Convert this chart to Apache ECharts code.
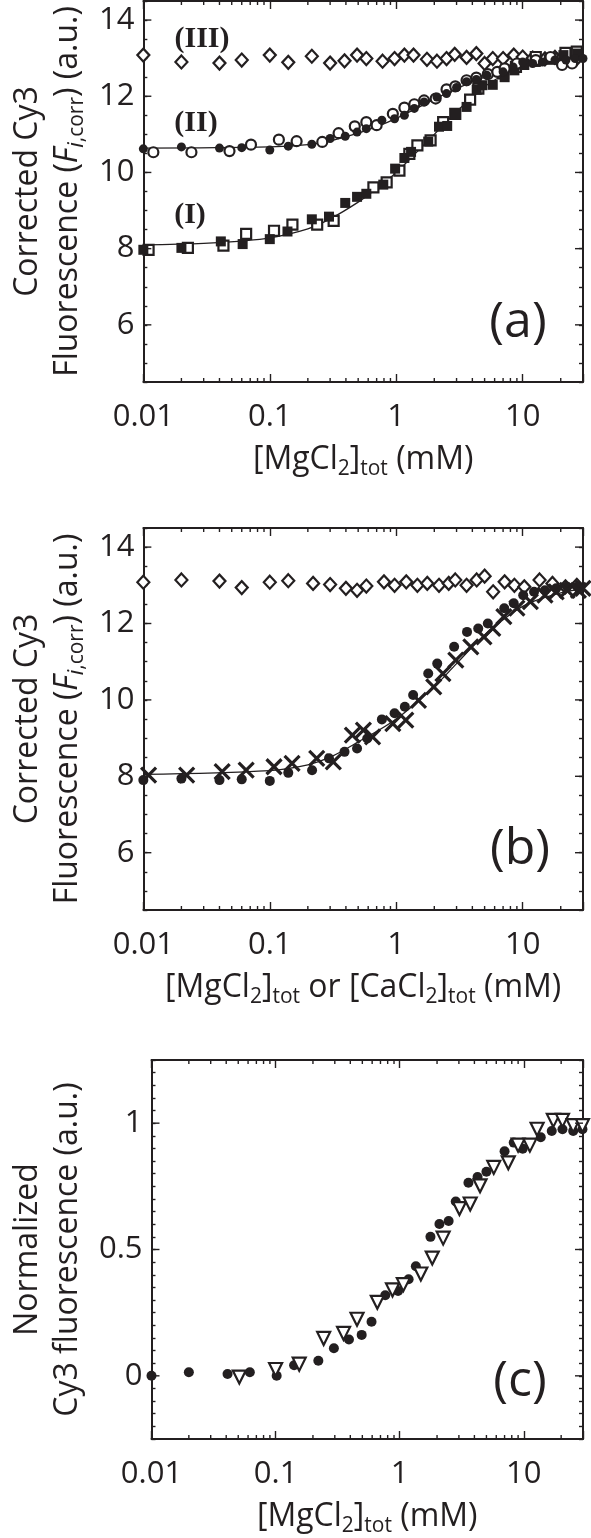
<!DOCTYPE html>
<html><head><meta charset="utf-8">
<script src="https://cdn.jsdelivr.net/npm/echarts@6/dist/echarts.min.js"></script>
<style>html,body{margin:0;padding:0;background:#fff}#c{width:591px;height:1538px}</style>
</head><body><div id="c"></div>
<script>
// ---------- Panel (a) ----------
const a3X = [0.01,0.02,0.04,0.06,0.1,0.14,0.215,0.3,0.39,0.49,0.58,0.78,0.97,1.16,1.37,1.75,2.1,2.5,2.9,3.6,4.3,5.0,5.8,7.0,8.5,10,12,15,18,22,27];
const a3Y = [13.08,12.90,12.87,12.95,13.08,12.89,13.05,12.87,12.93,13.08,12.99,12.92,12.99,13.08,13.08,12.97,12.92,12.99,13.10,13.02,13.12,12.86,12.99,12.99,13.08,13.03,13.00,12.98,13.02,12.97,13.00];
const a2FilledX = [0.01,0.02,0.04,0.06,0.1,0.14,0.215,0.3,0.395,0.49,0.58,0.77,0.97,1.16,1.39,1.66,2.1,2.5,3.0,3.6,4.3,5.2,7.0,8.4,10,12,14.3,18,22,26,30];
const a2FilledY = [10.62,10.67,10.64,10.65,10.59,10.69,10.74,10.89,10.95,11.06,11.15,11.37,11.41,11.50,11.68,11.85,11.98,12.07,12.23,12.38,12.44,12.55,12.64,12.77,12.90,12.86,12.90,12.95,12.95,12.99,12.99];
const a2OpenX = [0.012,0.024,0.048,0.071,0.118,0.163,0.26,0.35,0.47,0.58,0.70,0.94,1.16,1.39,1.66,2.05,2.5,2.93,3.6,4.3,5.3,6.3,7.2,9.0,12.7,16.6,20.5,24.6];
const a2OpenY = [10.53,10.53,10.56,10.73,10.86,10.82,10.80,11.03,11.21,11.32,11.24,11.54,11.70,11.79,11.89,11.94,12.18,12.26,12.42,12.49,12.58,12.64,12.73,12.86,12.95,13.03,12.82,12.86];
const a1FilledX = [0.01,0.02,0.041,0.061,0.10,0.138,0.215,0.294,0.395,0.49,0.58,0.79,0.98,1.16,1.31,1.79,2.18,2.53,2.93,3.6,4.33,4.8,5.8,7.2,8.6,10.3,12.7,16.1,21,27];
const a1FilledY = [7.97,8.02,8.19,8.12,8.25,8.45,8.77,8.84,9.20,9.36,9.44,9.68,10.10,10.38,10.54,10.81,11.20,11.22,11.52,11.72,12.17,12.29,12.30,12.50,12.68,12.82,12.90,12.97,13.08,13.12];
const a1OpenX = [0.011,0.0225,0.043,0.065,0.108,0.151,0.237,0.32,0.66,0.84,1.06,1.27,1.47,1.87,2.35,2.93,3.84,4.46,7.0,8.85,12.7,17.2,21.8,26.8];
const a1OpenY = [7.97,8.02,8.08,8.39,8.47,8.63,8.63,8.73,9.61,9.74,10.05,10.49,10.71,10.84,11.32,11.54,11.91,12.20,12.60,12.77,13.03,12.99,13.14,13.17];
const a1FitX = [0.01,0.03,0.06,0.1,0.2,0.3,0.5,0.7,1,1.5,2,3,5,7,10,20,30];
const a1FitY = [8.10,8.14,8.20,8.28,8.52,8.78,9.22,9.58,10.0,10.58,11.0,11.6,12.25,12.55,12.80,13.02,13.08];
const a2FitX = [0.01,0.1,0.2,0.3,0.5,0.7,1,2,3,5,10,20,30];
const a2FitY = [10.64,10.67,10.73,10.83,11.03,11.20,11.42,11.92,12.20,12.50,12.80,12.95,12.98];

// ---------- Panel (b) ----------
const bDiamondX = [0.01,0.02,0.04,0.06,0.1,0.14,0.22,0.30,0.40,0.49,0.58,0.80,0.97,1.2,1.47,1.76,2.18,2.6,2.93,3.6,4.33,5.0,5.84,7.2,8.6,10.3,13.6,17.2,21.8,26.8];
const bDiamondY = [13.08,13.14,13.11,12.94,13.08,13.12,13.05,13.02,12.92,12.87,12.98,13.09,13.00,13.09,13.00,13.05,13.00,13.05,13.14,13.00,13.14,13.24,12.83,13.09,13.00,12.96,13.14,13.05,12.96,13.00];
const bDotX = [0.01,0.02,0.04,0.06,0.1,0.14,0.216,0.294,0.39,0.49,0.59,0.77,0.97,1.17,1.36,1.79,2.11,2.87,3.63,4.45,5.3,7.15,8.5,10.1,12.3,15,18.4,22.5,27.6];
const bDotY = [7.90,7.94,7.90,7.92,7.88,8.09,8.16,8.47,8.64,8.73,8.99,9.49,9.65,9.82,10.13,10.69,10.95,11.39,11.78,11.87,12.00,12.40,12.53,12.74,12.83,12.87,12.92,12.96,12.96];
const bCrossX = [0.011,0.022,0.042,0.065,0.108,0.15,0.235,0.318,0.45,0.55,0.65,0.94,1.19,1.5,1.98,2.34,2.96,3.89,4.94,5.8,7.1,9.0,11.5,15,18.4,22.5,27.6,30];
const bCrossY = [8.03,8.03,8.12,8.16,8.25,8.34,8.47,8.38,9.08,9.21,9.03,9.38,9.47,9.99,10.34,10.69,11.04,11.39,11.65,11.87,12.18,12.40,12.57,12.74,12.83,12.87,12.87,12.92];
const bFitX = [0.01,0.1,0.2,0.3,0.5,1,2,3,5,10,20,30];
const bFitY = [8.05,8.15,8.30,8.50,8.90,9.50,10.35,10.95,11.70,12.45,12.80,12.90];

// ---------- Panel (c) ----------
const cDotX = [0.01,0.02,0.041,0.062,0.102,0.141,0.221,0.295,0.39,0.494,0.593,0.765,0.97,1.18,1.35,1.77,2.09,2.48,2.83,3.58,4.24,5.0,7.0,8.3,9.8,13.7,16.8,20.5,25,29.7];
const cDotY = [0.0,0.014,0.007,0.014,0.0,0.042,0.060,0.109,0.144,0.162,0.214,0.319,0.336,0.382,0.434,0.55,0.601,0.613,0.69,0.764,0.787,0.808,0.889,0.923,0.899,0.944,0.969,0.976,0.969,0.976];
const cTriX = [0.051,0.10,0.155,0.244,0.353,0.453,0.66,0.875,1.07,1.48,1.83,2.24,3.03,3.7,4.44,5.73,7.5,9.0,11.2,12.8,17.3,20.5,25,29.7];
const cTriY = [-0.005,0.025,0.046,0.148,0.168,0.224,0.291,0.34,0.361,0.403,0.466,0.545,0.662,0.68,0.752,0.825,0.843,0.913,0.913,0.976,1.011,1.011,0.99,0.99];

// ---------- Axis ticks ----------
const xDecadeLabels = [0.01, 0.1, 1, 10];
const xMinorTicks = [0.02,0.03,0.04,0.05,0.06,0.07,0.08,0.09,0.2,0.3,0.4,0.5,0.6,0.7,0.8,0.9,2,3,4,5,6,7,8,9,20];
const yMajorAB = [6, 8, 10, 12, 14];
const yMajorC = [0, 0.5, 1];

const INK = '#231f20';
const FONT = 'Open Sans';
const XMIN = 0.01, XMAX = 30;

const pair = (xs, ys) => xs.map((x, i) => [x, ys[i]]);

const grids = [
  {left: 133, top: 1, width: 450, height: 381, yMin: 4.5, yMax: 14.5, yStep: 0.5, majors: yMajorAB},
  {left: 133, top: 528, width: 450, height: 382, yMin: 4.5, yMax: 14.5, yStep: 0.5, majors: yMajorAB},
  {left: 133, top: 1060, width: 450, height: 381, yMin: -0.25, yMax: 1.25, yStep: 0.05, majors: yMajorC}
];

const subRich = {
  s: {fontSize: 21, lineHeight: 20, verticalAlign: 'bottom', fontFamily: FONT, color: INK},
  m: {fontSize: 32, lineHeight: 40, fontFamily: FONT, color: INK},
  it: {fontSize: 32, lineHeight: 40, fontFamily: FONT, fontStyle: 'italic', color: INK},
  si: {fontSize: 22, lineHeight: 20, verticalAlign: 'bottom', fontFamily: FONT, fontStyle: 'italic', color: INK}
};

const xNames = [
  '{m|[MgCl}{s|2}{m|]}{s|tot}{m| (mM)}',
  '{m|[MgCl}{s|2}{m|]}{s|tot}{m| or [CaCl}{s|2}{m|]}{s|tot}{m| (mM)}',
  '{m|[MgCl}{s|2}{m|]}{s|tot}{m| (mM)}'
];
const yNames = [
  '{m|Corrected Cy3}\n{m|Fluorescence (}{it|F}{si|i}{s|,corr}{m|) (a.u.)}',
  '{m|Corrected Cy3}\n{m|Fluorescence (}{it|F}{si|i}{s|,corr}{m|) (a.u.)}',
  '{m|Normalized}\n{m|Cy3 fluorescence (a.u.)}'
];

function xLabelFmt(v) {
  const l = Math.log10(v);
  const r = Math.round(l);
  if (Math.abs(l - r) > 1e-6) return '';
  if (!xDecadeLabels.some(d => Math.abs(d - v) / d < 1e-6)) return '';
  return r < 0 ? Math.pow(10, r).toFixed(-r) : String(Math.round(Math.pow(10, r)));
}

const xAxes = [], yAxes = [];
grids.forEach((g, gi) => {
  const base = {
    type: 'log', gridIndex: gi, min: XMIN, max: XMAX,
    axisLine: {show: true, onZero: false, lineStyle: {color: INK, width: 2}},
    axisTick: {show: true, inside: true, length: 8, lineStyle: {color: INK, width: 1.4}},
    splitLine: {show: false}, minorTick: {show: false}
  };
  xAxes.push(Object.assign({}, base, {
    position: 'bottom',
    axisLabel: {show: true, formatter: xLabelFmt, fontFamily: FONT, fontSize: 31, color: INK, margin: 20},
    name: xNames[gi], nameLocation: 'middle', nameGap: 58,
    nameTextStyle: {fontFamily: FONT, fontSize: 32, color: INK, lineHeight: 40, rich: subRich}
  }));
  xAxes.push(Object.assign({}, base, {position: 'top', axisLabel: {show: false}}));
  const ybase = {
    type: 'value', gridIndex: gi, min: g.yMin, max: g.yMax, interval: g.yStep,
    axisLine: {show: true, onZero: false, lineStyle: {color: INK, width: 2}},
    axisTick: {show: true, inside: true, length: 4, lineStyle: {color: INK, width: 1.4}},
    splitLine: {show: false}
  };
  yAxes.push(Object.assign({}, ybase, {
    position: 'left',
    axisLabel: {
      show: true, fontFamily: FONT, fontSize: 31, color: INK, margin: 9,
      formatter: v => {
        const m = g.majors.find(t => Math.abs(t - v) < 1e-6);
        return m === undefined ? '' : String(m);
      }
    },
    name: yNames[gi], nameLocation: 'middle', nameRotate: 90, nameGap: 52,
    nameTextStyle: {fontFamily: FONT, fontSize: 32, color: INK, lineHeight: 40, rich: subRich}
  }));
  yAxes.push(Object.assign({}, ybase, {position: 'right', axisLabel: {show: false}}));
});

function tickSeries(gi) {
  const g = grids[gi];
  const data = xMinorTicks.map(v => [v, g.yMin, 0]).concat(g.majors.map(v => [XMIN, v, 1]));
  return {
    type: 'custom', xAxisIndex: gi * 2, yAxisIndex: gi * 2, silent: true, clip: false, z: 10,
    data: data,
    renderItem: (params, api) => {
      const kind = api.value(2);
      const st = {stroke: INK, lineWidth: 1.4};
      if (kind === 0) {
        const x = api.value(0);
        const b = api.coord([x, g.yMin]);
        const t = api.coord([x, g.yMax]);
        return {type: 'group', children: [
          {type: 'line', shape: {x1: b[0], y1: b[1], x2: b[0], y2: b[1] - 4}, style: st},
          {type: 'line', shape: {x1: t[0], y1: t[1], x2: t[0], y2: t[1] + 4}, style: st}
        ]};
      }
      const y = api.value(1);
      const l = api.coord([XMIN, y]);
      const r = api.coord([XMAX, y]);
      return {type: 'group', children: [
        {type: 'line', shape: {x1: l[0], y1: l[1], x2: l[0] + 8, y2: l[1]}, style: st},
        {type: 'line', shape: {x1: r[0], y1: r[1], x2: r[0] - 8, y2: r[1]}, style: st}
      ]};
    }
  };
}

const openStyle = {color: '#fff', borderColor: INK, borderWidth: 2.2, opacity: 1};
const fillStyle = {color: INK, borderColor: INK, borderWidth: 0, opacity: 1};
function sc(gi, data, symbol, size, style, extra) {
  return Object.assign({type: 'scatter', xAxisIndex: gi * 2, yAxisIndex: gi * 2, data: data,
    symbol: symbol, symbolSize: size, itemStyle: style, z: 4}, extra || {});
}
function fit(gi, data) {
  return {type: 'line', xAxisIndex: gi * 2, yAxisIndex: gi * 2, data: data, smooth: 0.35,
    showSymbol: false, symbol: 'none', lineStyle: {color: INK, width: 1.3}, z: 3};
}
const crossPath = 'path://M0,0L10,10M10,0L0,10';

const series = [
  fit(0, pair(a1FitX, a1FitY)),
  fit(0, pair(a2FitX, a2FitY)),
  sc(0, pair(a3X, a3Y), 'diamond', [12, 13], openStyle),
  sc(0, pair(a1OpenX, a1OpenY), 'rect', 10, openStyle),
  sc(0, pair(a1FilledX, a1FilledY), 'rect', 10, fillStyle),
  sc(0, pair(a2OpenX, a2OpenY), 'circle', 10, openStyle),
  sc(0, pair(a2FilledX, a2FilledY), 'circle', 9, fillStyle),
  fit(1, pair(bFitX, bFitY)),
  sc(1, pair(bDiamondX, bDiamondY), 'diamond', [12, 13], openStyle),
  sc(1, pair(bDotX, bDotY), 'circle', 10, fillStyle),
  sc(1, pair(bCrossX, bCrossY), crossPath, 15, {color: 'none', borderColor: INK, borderWidth: 3.2, opacity: 1}),
  sc(2, pair(cDotX, cDotY), 'circle', 10, fillStyle),
  sc(2, pair(cTriX, cTriY), 'triangle', 13, openStyle, {symbolRotate: 180}),
  tickSeries(0), tickSeries(1), tickSeries(2)
];

const txt = (x, y, text, size, family, weight) => ({
  type: 'text', x: x, y: y, z: 20, silent: true,
  style: {text: text, fontSize: size, fontFamily: family, fontWeight: weight || 'normal',
    fill: INK, align: 'center', verticalAlign: 'middle'}
});

const option = {
  animation: false,
  backgroundColor: '#fff',
  grid: grids.map(g => ({left: g.left, top: g.top, width: g.width, height: g.height, containLabel: false})),
  xAxis: xAxes,
  yAxis: yAxes,
  series: series,
  graphic: [
    txt(202, 39, '(III)', 30, 'Liberation Serif', 'bold'),
    txt(196, 123, '(II)', 30, 'Liberation Serif', 'bold'),
    txt(190, 215, '(I)', 30, 'Liberation Serif', 'bold'),
    txt(518, 323, '(a)', 50, FONT),
    txt(520, 850, '(b)', 50, FONT),
    txt(520, 1382, '(c)', 50, FONT)
  ]
};

const chart = echarts.init(document.getElementById('c'), null, {renderer: 'canvas'});
chart.setOption(option);
</script></body></html>
